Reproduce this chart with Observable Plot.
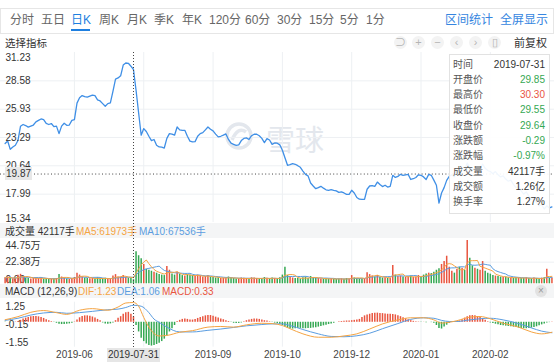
<!DOCTYPE html>
<html><head><meta charset="utf-8">
<script src="https://cdn.jsdelivr.net/npm/d3@7"></script>
<script src="https://cdn.jsdelivr.net/npm/@observablehq/plot@0.6"></script>
<style>
body{margin:0;background:#fff;font-family:Arial,"Liberation Sans","Noto Sans CJK SC",sans-serif;}
#root{position:relative;width:554px;height:364px;overflow:hidden;background:#fff;}
.a{position:absolute;white-space:nowrap;}
.tb{font-size:12px;color:#666;top:13px;line-height:14px;}
.band{left:0;width:554px;background:#f4f5f6;}
.lg{font-size:10px;line-height:13px;}
.tip{font-size:10px;line-height:13px;}
</style></head><body><div id="root"></div>
<script>
// ---------- data ----------
const closes = [
22.72,22.96,22.18,22.40,22.56,23.00,24.34,24.50,24.40,24.25,
24.35,24.45,24.74,24.88,25.02,24.95,24.60,24.50,24.59,24.30,
24.35,23.65,24.35,24.62,24.42,24.45,24.88,24.96,26.50,27.00,
27.20,27.10,27.05,27.15,27.24,27.20,26.80,26.70,26.45,26.20,
26.45,26.52,27.60,28.75,28.85,29.05,30.05,30.25,30.22,29.95,
29.64,27.70,25.60,23.50,24.12,23.85,23.40,23.00,23.10,22.56,
22.40,22.38,22.30,23.20,23.65,23.60,23.50,24.27,24.00,23.96,
23.96,23.40,22.95,22.87,22.90,23.40,23.65,23.74,24.00,24.27,
24.05,23.90,23.60,23.34,23.40,23.50,23.62,23.10,22.75,22.65,
22.55,22.60,23.00,23.20,23.25,23.10,23.45,23.59,23.59,23.45,
23.20,22.80,23.18,23.05,22.65,22.77,22.75,22.60,22.09,21.40,
20.69,20.75,20.84,20.78,20.65,20.50,20.15,19.84,19.70,19.03,
18.75,18.50,18.60,18.72,18.55,18.40,18.35,18.41,18.35,18.30,
18.16,18.20,18.10,17.97,17.97,18.35,18.10,17.68,17.52,17.50,
17.50,18.45,18.75,18.78,18.72,19.12,18.90,18.70,18.82,18.65,
18.72,19.75,19.55,19.65,19.84,19.75,19.80,19.84,19.36,19.43,
19.55,19.80,19.75,19.60,19.36,19.84,19.75,19.30,18.82,17.15,
18.10,18.60,19.28,19.65,19.80,19.60,20.10,19.90,20.30,20.20,
20.90,20.50,20.30,20.40,20.20,20.30,20.80,20.40,20.20,20.10,
19.90,20.10,19.80,19.60,19.70,19.40,19.20,19.30,18.90,18.60,
18.70,18.30,18.00,18.20,17.80,17.50,17.60,17.20,16.90,17.00,
16.60,16.90,16.70,16.80];

const volumes = [
62000,70000,58000,52000,55000,88000,98000,72000,60000,55000,
50000,58000,62000,55000,60000,50000,52000,45000,48000,50000,
55000,95000,70000,60000,50000,45000,55000,65000,110000,90000,
70000,60000,55000,52000,58000,50000,62000,50000,55000,58000,
48000,52000,80000,95000,70000,68493,85000,68000,60000,54750,
42117,330000,290000,260000,200000,150000,140000,130000,120000,110000,
95000,90000,85000,180000,140000,100000,90000,120000,100000,85000,
80000,95000,90000,85000,75000,90000,80000,70000,75000,85000,
70000,65000,60000,62000,55000,58000,60000,70000,62000,55000,
50000,52000,60000,58000,55000,50000,62000,60000,55000,50000,
52000,65000,58000,50000,60000,55000,52000,62000,90000,172000,
85000,70000,60000,55000,58000,50000,62000,70000,55000,75000,
65000,60000,55000,50000,48000,52000,50000,55000,48000,45000,
50000,52000,48000,55000,50000,85000,60000,55000,52000,50000,
55000,115000,95000,80000,70000,85000,65000,60000,62000,55000,
58000,189000,90000,75000,80000,70000,65000,72000,80000,68000,
70000,85000,75000,90000,100000,110000,105000,120000,140000,155000,
200000,230000,285000,172000,130000,110000,150000,172000,160000,140000,
447500,263000,186000,160000,150000,140000,230000,130000,110000,100000,
85000,80000,75000,70000,65000,70000,62000,60000,58000,65000,
60000,55000,58000,62000,55000,52000,60000,55000,50000,58000,
62000,150000,55000,60000];

const macdHist = [
-0.02,0.00,-0.03,0.00,0.02,0.05,0.12,0.20,0.26,0.30,
0.34,0.36,0.36,0.34,0.30,0.24,0.16,0.10,0.04,-0.02,
-0.06,-0.12,-0.14,-0.14,-0.12,-0.10,-0.06,0.02,0.15,0.28,
0.36,0.40,0.40,0.38,0.33,0.26,0.18,0.10,-0.04,-0.10,
-0.12,-0.10,-0.05,0.10,0.25,0.35,0.50,0.60,0.62,0.50,
0.33,-0.20,-0.60,-1.00,-1.20,-1.35,-1.44,-1.48,-1.44,-1.38,
-1.30,-1.20,-1.05,-0.85,-0.60,-0.40,-0.20,0.05,0.12,0.18,
0.20,0.18,0.14,0.14,0.18,0.24,0.30,0.35,0.40,0.42,
0.42,0.38,0.32,0.26,0.20,0.16,0.10,0.05,-0.02,-0.06,
-0.08,-0.07,-0.04,0.04,0.10,0.15,0.18,0.20,0.20,0.18,
0.14,0.10,0.08,0.03,-0.02,-0.05,-0.08,-0.12,-0.20,-0.30,
-0.38,-0.42,-0.42,-0.40,-0.38,-0.38,-0.40,-0.40,-0.38,-0.38,
-0.36,-0.34,-0.30,-0.26,-0.22,-0.18,-0.14,-0.10,-0.06,0.00,
0.03,0.05,0.07,0.08,0.08,0.10,0.12,0.14,0.18,0.30,
0.40,0.46,0.50,0.54,0.56,0.57,0.55,0.54,0.52,0.50,
0.50,0.48,0.46,0.40,0.35,0.28,0.22,0.16,0.10,0.06,
0.03,0.02,-0.02,0.01,-0.03,0.00,-0.02,-0.06,-0.20,-0.38,
-0.42,-0.30,-0.18,-0.06,0.02,0.00,0.04,0.08,0.16,0.26,
0.34,0.40,0.42,0.40,0.36,0.30,0.22,0.12,0.04,-0.04,
-0.08,-0.12,-0.16,-0.20,-0.22,-0.24,-0.26,-0.28,-0.30,-0.33,
-0.36,-0.38,-0.40,-0.40,-0.38,-0.36,-0.32,-0.28,-0.22,-0.16,
-0.10,-0.05,-0.02,0.02];

const difIdx = [0,5,10,15,20,24,29,34,40,44,47,50,52,54,56,58,60,63,68,73,79,84,89,94,100,104,108,111,116,122,127,132,137,142,147,153,158,163,167,170,173,176,181,185,189,194,200,205,209,213];
const difVal = [0.16,0.35,0.62,0.73,0.60,0.49,0.75,0.85,0.75,0.95,1.20,1.23,1.00,0.30,-0.30,-0.70,-0.85,-0.82,-0.62,-0.52,-0.30,-0.26,-0.30,-0.16,-0.06,-0.08,-0.20,-0.40,-0.72,-0.93,-0.93,-0.85,-0.72,-0.42,-0.10,0.15,0.28,0.28,0.15,-0.05,0.00,0.10,0.32,0.36,0.22,-0.06,-0.30,-0.60,-0.72,-0.62];
const deaIdx = [0,5,10,15,20,24,29,34,40,44,47,50,53,56,58,60,63,68,73,79,84,89,94,100,104,108,111,116,122,127,132,137,142,147,153,158,163,167,170,173,176,181,185,189,194,200,205,209,213];
const deaVal = [0.12,0.25,0.45,0.58,0.62,0.56,0.60,0.68,0.78,0.82,0.92,1.06,1.00,0.60,0.20,0.00,-0.30,-0.60,-0.60,-0.50,-0.42,-0.32,-0.22,-0.14,-0.10,-0.10,-0.20,-0.45,-0.72,-0.88,-0.90,-0.84,-0.68,-0.40,-0.08,0.18,0.28,0.25,0.12,0.05,0.05,0.15,0.22,0.25,0.15,-0.08,-0.35,-0.55,-0.65];

const xTickIdx = [27,54,81,108,135,162,189];
const xTickLabels = ["2019-06","2019-08","2019-09","2019-10","2019-12","2020-01","2020-02"];
const priceTicks = [31.23,28.58,25.93,23.29,20.64,17.99,15.34];
const volTicks = [447500,223750,0];
const volTickLabels = ["44.75万","22.38万","0.00"];
const macdTicks = [1.25,-0.15,-1.55];
const crossIdx = 50;
const crossPrice = 19.87;
const crossDate = "2019-07-31";
const tipLabels = ["时间","开盘价","最高价","最低价","收盘价","涨跌额","涨跌幅","成交量","成交额","换手率"];
const tipValues = ["2019-07-31","29.85","30.30","29.55","29.64","-0.29","-0.97%","42117手","1.26亿","1.27%"];
const volLegend = ["成交量 42117手","MA5:61973手","MA10:67536手"];
const macdLegend = ["MACD (12,26,9)","DIF:1.23","DEA:1.06","MACD:0.33"];
const tabs = ["分时","五日","日K","周K","月K","季K","年K","120分","60分","30分","15分","5分","1分"];
const tabsRight = ["区间统计","全屏显示"];
const watermark = "雪球";

// ---------- styles ----------
const RED = "#e9553f", GREEN = "#35a853", BLUE = "#3f8fe6", ORANGE = "#f5a443", LBLUE = "#5b9de0";
const GRID = "#edf0f3", TXT = "#333";
const FONT = 'Arial,"Liberation Sans","Noto Sans CJK SC",sans-serif';
const root = document.getElementById("root");
function add(html){ root.insertAdjacentHTML("beforeend", html); }
function place(svg, top){ svg.style.position="absolute"; svg.style.left="0px"; svg.style.top=top+"px"; root.appendChild(svg); }
const xDom = [-1.8, 214];
const baseStyle = {background:"transparent", fontFamily:FONT, fontSize:"10px", overflow:"visible"};

// ---------- toolbar ----------
add(`<div class="a" style="left:0;top:8px;width:552px;height:24px;border:1px solid #e6e6e6;"></div>`);
const tabLeft = [10,41,71,99,127,154,182,209,245,277,309,340,366];
tabs.forEach((t,i)=>{
  const sel = t==="日K";
  add(`<div class="a tb" style="left:${tabLeft[i]}px;color:${sel?"#1e7fe0":"#666"}">${t}</div>`);
});
add(`<div class="a" style="left:71px;top:29px;width:19px;height:2px;background:#1e7fe0"></div>`);
add(`<div class="a tb" style="left:445px;color:#3585e0">${tabsRight[0]}</div>`);
add(`<div class="a tb" style="left:500px;color:#3585e0">${tabsRight[1]}</div>`);
add(`<div class="a" style="left:5px;top:37px;font-size:10.5px;color:#333;line-height:13px">选择指标</div>`);
const icons = ["⊃","+","−","‹","›","▯"]; const iconLeft=[394,412,431,450,469,488];
icons.forEach((c,i)=>add(`<div class="a" style="left:${iconLeft[i]}px;top:36px;width:13px;height:13px;border-radius:7px;background:#f3f3f3;color:#b5b5b5;font-size:11px;line-height:13px;text-align:center">${c}</div>`));
add(`<div class="a" style="left:514px;top:37px;font-size:11px;color:#333;line-height:13px">前复权</div>`);

// ---------- watermark ----------
add(`<svg class="a" style="left:224px;top:120px" width="32" height="34"><circle cx="15" cy="16" r="12" fill="none" stroke="#e3e7ed" stroke-width="3.5"/><path d="M8 20 Q14 6 22 12" fill="none" stroke="#e3e7ed" stroke-width="3.5"/></svg>`);
add(`<div class="a" style="left:266px;top:119px;width:70px;height:38px;font-size:29px;line-height:38px;color:#e3e7ed;font-family:'Noto Sans CJK SC'">${watermark}</div>`);

// ---------- price panel ----------
const price = Plot.plot({
  width:554, height:170, marginTop:0, marginBottom:0, marginLeft:0, marginRight:0,
  style: baseStyle,
  x:{domain:xDom, axis:null},
  y:{domain:[priceTicks[priceTicks.length-1], priceTicks[0]], axis:null},
  marks:[
    Plot.ruleY(priceTicks.slice(1,-1), {stroke:GRID}),
    Plot.ruleX(xTickIdx, {stroke:GRID}),
    Plot.ruleY([crossPrice], {stroke:"#444", strokeDasharray:"1,2.4"}),
    Plot.line(closes, {x:(d,i)=>i, y:d=>d, stroke:BLUE, strokeWidth:1.3}),
    Plot.text(priceTicks.slice(0,1), {y:d=>d, text:d=>d.toFixed(2), frameAnchor:"left", dx:5, lineAnchor:"top", dy:1, fill:TXT, textAnchor:"start"}),
    Plot.text(priceTicks.slice(1,-1), {y:d=>d, text:d=>d.toFixed(2), frameAnchor:"left", dx:5, lineAnchor:"middle", fill:TXT, textAnchor:"start"}),
    Plot.text(priceTicks.slice(-1), {y:d=>d, text:d=>d.toFixed(2), frameAnchor:"left", dx:5, lineAnchor:"bottom", dy:-1, fill:TXT, textAnchor:"start"})
  ]
});
place(price, 52);
const px = price.scale("x"), py = price.scale("y");
const cy = 52 + py.apply(crossPrice);
add(`<div class="a" style="left:5px;top:${cy-6.5}px;width:27px;height:13px;background:#e8e8e8;color:#333;font-size:10px;line-height:13px;text-align:center">${crossPrice.toFixed(2)}</div>`);

// ---------- volume band + panel ----------
add(`<div class="a band" style="top:223px;height:15px"></div>`);
add(`<div class="a lg" style="left:5px;top:225px;color:#333">${volLegend[0]}</div>`);
add(`<div class="a lg" style="left:76px;top:225px;color:${ORANGE}">${volLegend[1]}</div>`);
add(`<div class="a lg" style="left:139px;top:225px;color:${LBLUE}">${volLegend[2]}</div>`);
const volColor = closes.map((c,i)=> (i===0 || c>=closes[i-1]) ? RED : GREEN);
const vol = Plot.plot({
  width:554, height:46, marginTop:2, marginBottom:0.7, marginLeft:0, marginRight:0,
  style: baseStyle,
  x:{domain:xDom, axis:null},
  y:{domain:[0, volTicks[0]], axis:null},
  color:{type:"identity"},
  marks:[
    Plot.ruleY([volTicks[1]], {stroke:GRID}),
    Plot.ruleX(xTickIdx, {stroke:GRID}),
    Plot.text([volTicks[0]], {y:d=>d, text:()=>volTickLabels[0], frameAnchor:"left", dx:5, lineAnchor:"top", dy:1, fill:TXT, textAnchor:"start"}),
    Plot.text([volTicks[1]], {y:d=>d, text:()=>volTickLabels[1], frameAnchor:"left", dx:5, lineAnchor:"middle", fill:TXT, textAnchor:"start"}),
    Plot.text([volTicks[2]], {y:d=>d, text:()=>volTickLabels[2], frameAnchor:"left", dx:5, lineAnchor:"bottom", dy:-1, fill:TXT, textAnchor:"start"}),
    Plot.ruleX(volumes, {x:(d,i)=>i, y1:0, y2:d=>d, stroke:(d,i)=>volColor[i], strokeWidth:1.5}),
    Plot.lineY(volumes, Plot.windowY({k:10, anchor:"end"}, {x:(d,i)=>i, y:d=>d, stroke:LBLUE, strokeWidth:1})),
    Plot.lineY(volumes, Plot.windowY({k:5, anchor:"end"}, {x:(d,i)=>i, y:d=>d, stroke:ORANGE, strokeWidth:1}))
  ]
});
place(vol, 238);

// ---------- MACD band + panel ----------
add(`<div class="a band" style="top:284px;height:14px"></div>`);
add(`<div class="a lg" style="left:5px;top:285px;color:#333">${macdLegend[0]}</div>`);
add(`<div class="a lg" style="left:78px;top:285px;color:${ORANGE}">${macdLegend[1]}</div>`);
add(`<div class="a lg" style="left:117px;top:285px;color:${LBLUE}">${macdLegend[2]}</div>`);
add(`<div class="a lg" style="left:162px;top:285px;color:${RED}">${macdLegend[3]}</div>`);
add(`<div class="a" style="left:535px;top:285px;width:12px;height:12px;border-radius:6px;background:#e2e2e2;color:#999;font-size:10px;line-height:12px;text-align:center">×</div>`);
const difPts = difIdx.map((x,i)=>({x, y:difVal[i]}));
const deaPts = deaIdx.map((x,i)=>({x, y:deaVal[i]}));
// axis labels that sit under the crosshair date box are hidden by it
const axisTicks = xTickIdx.filter(t => Math.abs(t - crossIdx) > 10);
const macd = Plot.plot({
  width:554, height:66, marginTop:3.7, marginBottom:17.3, marginLeft:0, marginRight:0,
  style: baseStyle,
  x:{domain:xDom},
  y:{domain:[macdTicks[2], macdTicks[0]], axis:null},
  color:{type:"identity"},
  marks:[
    Plot.ruleX(xTickIdx, {stroke:GRID}),
    Plot.text([macdTicks[0]], {y:d=>d, text:d=>d.toFixed(2), frameAnchor:"left", dx:5, lineAnchor:"top", dy:1, fill:TXT, textAnchor:"start"}),
    Plot.text([macdTicks[1]], {y:d=>d, text:d=>d.toFixed(2), frameAnchor:"left", dx:5, lineAnchor:"middle", fill:TXT, textAnchor:"start"}),
    Plot.text([macdTicks[2]], {y:d=>d, text:d=>d.toFixed(2), frameAnchor:"left", dx:5, lineAnchor:"bottom", dy:-1, fill:TXT, textAnchor:"start"}),
    Plot.ruleX(macdHist, {x:(d,i)=>i, y1:0, y2:d=>d, stroke:d=> d>=0 ? RED : GREEN, strokeWidth:1.5}),
    Plot.line(deaPts, {x:"x", y:"y", stroke:LBLUE, strokeWidth:1, curve:"monotone-x"}),
    Plot.line(difPts, {x:"x", y:"y", stroke:ORANGE, strokeWidth:1, curve:"monotone-x"}),
    Plot.axisX(axisTicks, {tickSize:0, tickPadding:4, tickFormat:d=>xTickLabels[xTickIdx.indexOf(d)], color:"#444", fontSize:10, label:null})
  ]
});
place(macd, 298);

// ---------- crosshair ----------
const cx = px.apply(crossIdx);
add(`<div class="a" style="left:${cx}px;top:52px;width:1px;height:295px;background-image:linear-gradient(#444 35%,transparent 35%);background-size:1px 3px"></div>`);
add(`<div class="a" style="left:${cx-26}px;top:348px;width:53px;height:14px;background:#e6e6e6;color:#333;font-size:10px;line-height:14px;text-align:center">${crossDate}</div>`);

// ---------- tooltip ----------
const tipColor = ["#333",GREEN,RED,GREEN,GREEN,GREEN,GREEN,"#333","#333","#333"];
let tip = `<div class="a" style="left:449px;top:54px;width:99px;height:158px;background:rgba(255,255,255,0.92);border:1px solid #e2e2e2"></div>`;
tipLabels.forEach((l,i)=>{
  const y = 57.5 + 15.3*i;
  tip += `<div class="a tip" style="left:453px;top:${y}px;color:#555">${l}</div>`;
  tip += `<div class="a tip" style="left:470px;width:75px;text-align:right;top:${y}px;color:${tipColor[i]}">${tipValues[i]}</div>`;
});
add(tip);
</script></body></html>
